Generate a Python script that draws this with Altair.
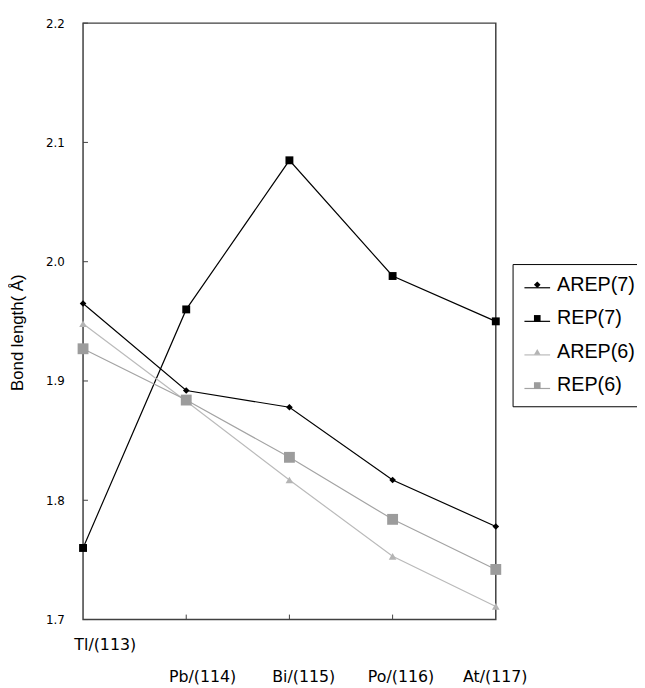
import altair as alt
import pandas as pd

# ---- data ----
elements = ["Tl/(113)", "Pb/(114)", "Bi/(115)", "Po/(116)", "At/(117)"]
series_names = ["AREP(7)", "REP(7)", "AREP(6)", "REP(6)"]
arep7 = [1.965, 1.892, 1.878, 1.817, 1.778]
rep7 = [1.760, 1.960, 2.085, 1.988, 1.950]
arep6 = [1.948, 1.883, 1.817, 1.753, 1.711]
rep6 = [1.927, 1.884, 1.836, 1.784, 1.742]
y_ticks = [1.7, 1.8, 1.9, 2.0, 2.1, 2.2]
inner_x_ticks = ["Pb/(114)", "Bi/(115)", "Po/(116)"]

# ---- styles ----
line_colors = ["#000000", "#000000", "#bababa", "#a3a3a3"]
fill_colors = ["#000000", "#000000", "#b4b4b4", "#9c9c9c"]
shapes = ["diamond", "square", "triangle-up", "square"]
marker_sizes = [45, 64, 60, 121]

W, H = 418, 604

rows = []
for k, (name, vals) in enumerate(zip(series_names, [arep7, rep7, arep6, rep6])):
    for i, (el, v) in enumerate(zip(elements, vals)):
        rows.append({"series": name, "sidx": k, "element": el, "idx": i, "value": v})
df = pd.DataFrame(rows)

xscale = alt.Scale(type="point", domain=elements, padding=0)
yscale = alt.Scale(domain=[1.7, 2.2], zero=False, nice=False)

offsets = [22, 16, 14, 8, -1]
x_axis = alt.Axis(
    title=None, ticks=False, tickSize=0, domain=False, grid=False,
    labelAngle=0, labelFont="DejaVu Sans", labelFontSize=16, labelColor="black",
    labelBaseline="top", labelAlign="center", labelOverlap=False, labelFlush=False,
    labelPadding={"condition": {"test": "datum.value === 'Tl/(113)'", "value": 17}, "value": 50},
    labelOffset={"condition": [
        {"test": f"datum.value === '{e}'", "value": o} for e, o in zip(elements[:-1], offsets[:-1])
    ], "value": offsets[-1]},
)
y_axis = alt.Axis(
    title="Bond length( Å)", values=y_ticks, format=".1f",
    ticks=False, tickSize=0, domain=False, grid=False,
    labelFont="DejaVu Sans", labelFontSize=12, labelColor="black", labelPadding=19,
    titleFont="Liberation Sans", titleFontSize=17, titleFontWeight="normal", titleColor="black",
    titleAngle=270, titleAlign="center", titleBaseline="middle", titleX=-66, titleY=313,
)

line_legend = alt.Legend(
    title=None, orient="none", legendX=530 - 84, legendY=273 - 19,
    symbolType="stroke", symbolSize=676, symbolStrokeWidth=1.2,
    labelExpr="''", labelFontSize=20, padding=0, rowPadding=10,
)
pt_legend = alt.Legend(
    title=None, orient="none", legendX=519 - 84, legendY=263 - 19,
    symbolSize=45, symbolOffset=4, labelFont="Liberation Sans", labelFontSize=20,
    labelColor="black", labelOffset=10, padding=11, rowPadding=14,
    strokeColor="black", symbolStrokeWidth=0,
)

X = alt.X("element:N", sort=elements, scale=xscale, axis=x_axis)
Y = alt.Y("value:Q", scale=yscale, axis=y_axis)

size_rule = {
    "condition": [
        {"test": f"datum.series === '{s}'", "value": z}
        for s, z in zip(series_names[:-1], marker_sizes[:-1])
    ],
    "value": marker_sizes[-1],
}

base = alt.Chart(df)
lines = base.mark_line(strokeWidth=1.2).encode(
    x=X, y=Y,
    stroke=alt.Stroke("sidx:O", scale=alt.Scale(domain=[0, 1, 2, 3], range=line_colors), legend=line_legend),
    order=alt.Order("idx:Q"),
)
points = base.mark_point(filled=True, opacity=1).encode(
    x=X, y=Y,
    shape=alt.Shape("series:N", scale=alt.Scale(domain=series_names, range=shapes), legend=pt_legend),
    fill=alt.Fill("series:N", scale=alt.Scale(domain=series_names, range=fill_colors), legend=pt_legend),
    size=size_rule,
)

ytick_marks = alt.Chart(pd.DataFrame({"value": y_ticks})).mark_rule(color="#404040", strokeWidth=1).encode(
    y=Y, x=alt.value(0), x2=alt.value(5),
)
xtick_marks = alt.Chart(pd.DataFrame({"element": inner_x_ticks})).mark_rule(color="#404040", strokeWidth=1).encode(
    x=X, y=alt.value(H), y2=alt.value(H - 5),
)

chart = alt.layer(lines, points, ytick_marks, xtick_marks).properties(
    width=W, height=H,
    autosize=alt.AutoSizeParams(type="none"),
    padding={"left": 76, "top": 11, "right": 143, "bottom": 65},
    background="white",
).configure_view(stroke="#404040", strokeWidth=1.5)

chart.save("out.html", embed_options={"renderer": "svg", "actions": False})
